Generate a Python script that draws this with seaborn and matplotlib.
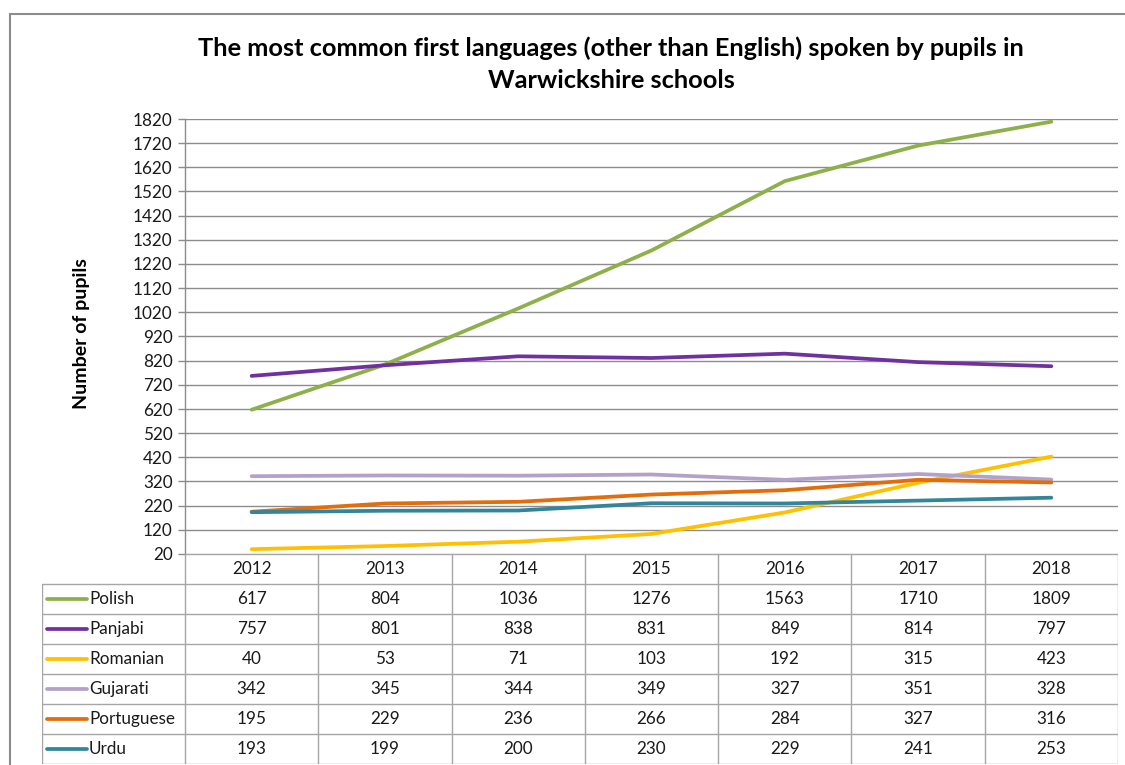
import matplotlib
matplotlib.use("Agg")
import matplotlib.pyplot as plt
import matplotlib.lines as mlines
import pandas as pd
import seaborn as sns

years = ["2012", "2013", "2014", "2015", "2016", "2017", "2018"]
languages = ["Polish", "Panjabi", "Romanian", "Gujarati", "Portuguese", "Urdu"]
polish = [617, 804, 1036, 1276, 1563, 1710, 1809]
panjabi = [757, 801, 838, 831, 849, 814, 797]
romanian = [40, 53, 71, 103, 192, 315, 423]
gujarati = [342, 345, 344, 349, 327, 351, 328]
portuguese = [195, 229, 236, 266, 284, 327, 316]
urdu = [193, 199, 200, 230, 229, 241, 253]
series = [polish, panjabi, romanian, gujarati, portuguese, urdu]
colors = ["#8EB04A", "#7030A0", "#FFC000", "#B3A2C7", "#E46C0A", "#31869B"]
yticks = list(range(20, 1821, 100))

rows = []
for lang, vals in zip(languages, series):
    for i, v in enumerate(vals):
        rows.append({"Language": lang, "pos": i, "Pupils": v})
df = pd.DataFrame(rows)

sns.set_theme(style="white")
plt.rcParams["font.family"] = ["Lato", "DejaVu Sans"]

W, H = 1125, 765
fig = plt.figure(figsize=(W / 100, H / 100), dpi=100)

def fx(px):
    return px / W

def fy(py):
    return 1 - py / H

FS = 12.3
TXT = "#1A1A1A"
left, right, top, bottom = 185, 1118, 119, 554
ax = fig.add_axes([fx(left), fy(bottom), fx(right - left), (bottom - top) / H])

sns.lineplot(data=df, x="pos", y="Pupils", hue="Language", hue_order=languages,
             palette=colors, linewidth=2.7, legend=False, ax=ax, sort=False)

ax.set_xlim(-0.5, len(years) - 0.5)
ax.set_ylim(yticks[0], yticks[-1])
ax.set_yticks(yticks)
ax.set_yticklabels([str(t) for t in yticks], fontsize=FS, color=TXT)
ax.set_xticks([])
ax.set_xlabel("")
ax.set_ylabel("")
ax.grid(axis="y", color="#8C8C8C", linewidth=1.0)
ax.set_axisbelow(True)
for s in ["top", "right", "bottom"]:
    ax.spines[s].set_visible(False)
ax.spines["left"].set_color("#8C8C8C")
ax.spines["left"].set_linewidth(1.0)
ax.tick_params(axis="y", which="both", left=True, length=5, width=1.0, color="#8C8C8C", pad=4)

fig.text(fx(82), fy(334), "Number of pupils", rotation=90, ha="center", va="center",
         fontsize=14, fontweight="bold", color="black")

# Title
fig.text(fx(611), fy(48), "The most common first languages (other than English) spoken by pupils in",
         ha="center", va="center", fontsize=18.3, fontweight="bold", color="black")
fig.text(fx(611), fy(80), "Warwickshire schools",
         ha="center", va="center", fontsize=18.3, fontweight="bold", color="black")

# Data table underneath the plot
tab_l, tab_b = 42, 764
tab = fig.add_axes([fx(tab_l), fy(tab_b), fx(right - tab_l), (tab_b - bottom) / H])
tab.set_xlim(tab_l, right)
tab.set_ylim(tab_b, bottom)
tab.axis("off")
gc = "#A6A6A6"
colw = (right - left) / len(years)
rowh = 30
tab.plot([left, right], [bottom, bottom], color=gc, lw=1.0)
for r in range(1, len(languages) + 2):
    y = bottom + r * rowh
    tab.plot([tab_l, right], [y, y], color=gc, lw=1.0)
tab.plot([tab_l, tab_l], [bottom + rowh, tab_b], color=gc, lw=1.0)
for c in range(len(years) + 1):
    x = left + c * colw
    tab.plot([x, x], [bottom, tab_b], color=gc, lw=1.0)
for c, yr in enumerate(years):
    tab.text(left + (c + 0.5) * colw, bottom + rowh / 2, yr, ha="center", va="center",
             fontsize=FS, color=TXT)
for r, (lang, vals, col) in enumerate(zip(languages, series, colors)):
    yc = bottom + (r + 1.5) * rowh
    tab.add_line(mlines.Line2D([47, 87], [yc, yc], color=col, lw=2.7))
    tab.text(89, yc, lang, ha="left", va="center", fontsize=FS, color=TXT)
    for c, v in enumerate(vals):
        tab.text(left + (c + 0.5) * colw, yc, str(v), ha="center", va="center",
                 fontsize=FS, color=TXT)

# Chart frame
fig.add_artist(mlines.Line2D([fx(10), 1.0], [fy(14), fy(14)], color="#8C8C8C", lw=1.5))
fig.add_artist(mlines.Line2D([fx(10), fx(10)], [fy(14), 0.0], color="#8C8C8C", lw=1.5))

fig.savefig("out.png", dpi=100)
